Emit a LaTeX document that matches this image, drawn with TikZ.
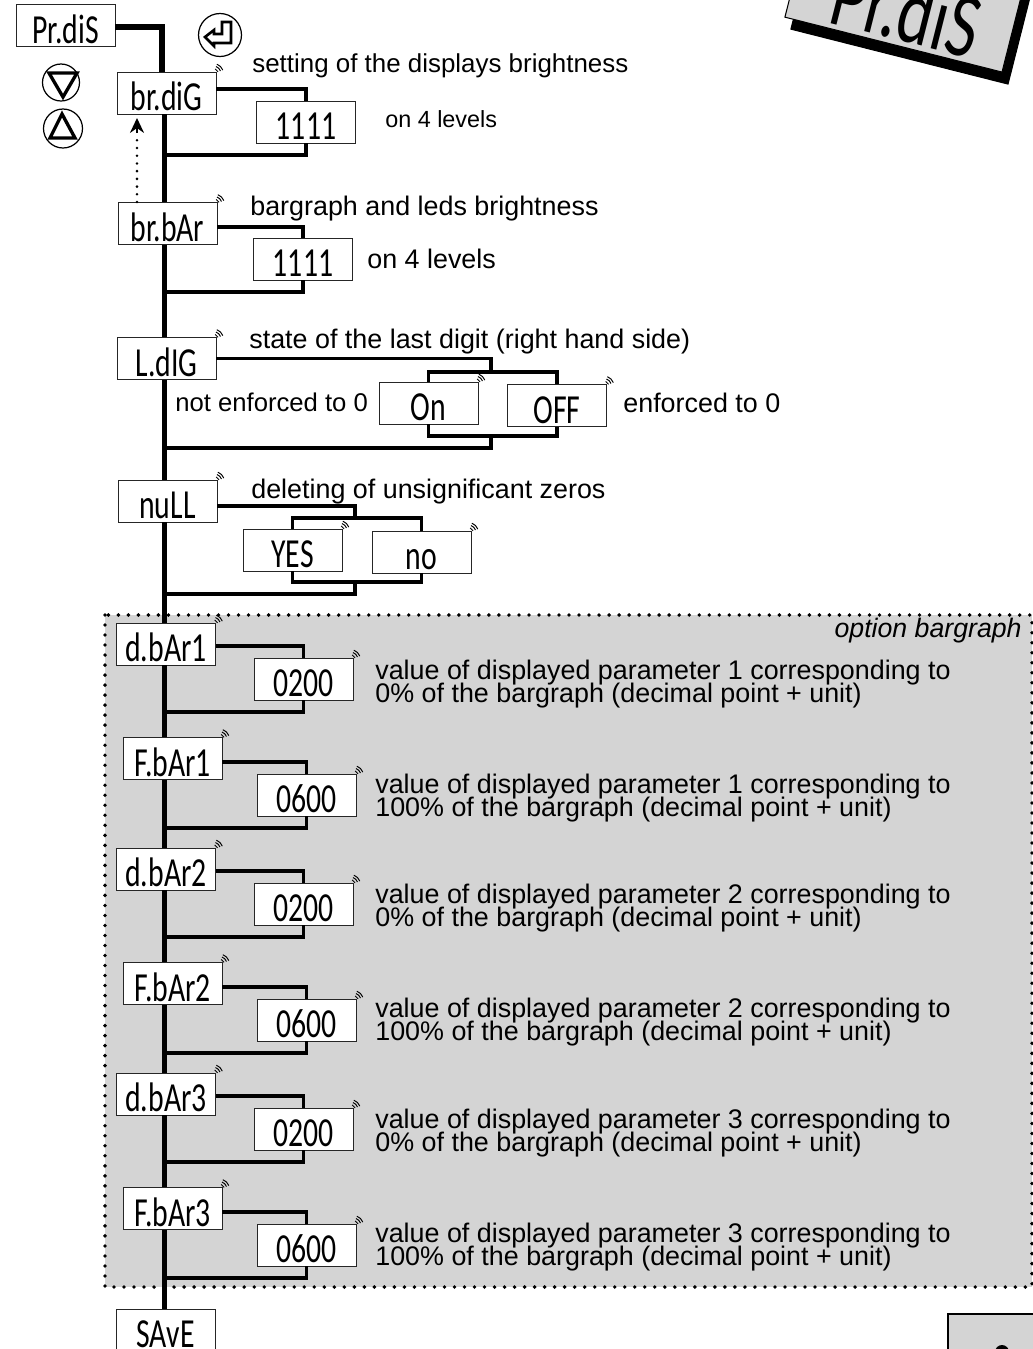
\documentclass[tikz,border=0pt]{standalone}
\usepackage{xcolor}
\usepackage{fontspec}
\usepackage{tikz}
\usetikzlibrary{arrows.meta, calc}
\setmainfont{Liberation Sans}
\newfontfamily\lcdfont[FakeStretch=0.72]{Carlito}
\definecolor{optgrey}{RGB}{212,212,212}
\tikzset{
  lcdbox/.style={rectangle, draw=black!85, fill=white, minimum width=1.98cm, minimum height=0.84cm,
    inner sep=0pt, text height=0.76cm, text depth=0.05cm, line width=0.5pt,
    font=\lcdfont\fontsize{23.5}{23.5}\selectfont},
  busline/.style={line width=2.85pt, color=black},
  subline/.style={line width=1.75pt, color=black},
  dotline/.style={line width=2.2pt, line cap=round, dash pattern=on 0pt off 5.7pt},
  label/.style={anchor=base west, inner sep=0pt, font=\fontsize{15.3}{15.3}\selectfont},
  twoline/.style={anchor=west, inner sep=0pt, align=left,
    font=\fontsize{15.3}{13}\selectfont},
  keyring/.style={circle, draw=black, line width=0.7pt, inner sep=0pt},
  keytip/.style={line width=1.9pt, line join=miter},
  wavemark/.style={line width=0.55pt},
  cornerlabel/.style={rectangle, draw=black, fill=optgrey, minimum width=4.48cm, minimum height=1.8cm,
    rotate=-14.2, line width=0.6pt}
}
% three small arcs at the corner of a box
\newcommand{\waves}[1]{%
  \foreach \r in {0.1,0.15,0.2} {
    \draw[wavemark] ($(#1.north east)+(-3,2)$) ++(20:\r cm) arc (20:70:\r cm);
  }
}
\begin{document}
\begin{tikzpicture}[x=0.02cm, y=-0.02cm]
  \useasboundingbox (0,0) rectangle (1033,1349);

  % Option area
  \fill[optgrey] (105,615) rectangle (1032,1287);
  \draw[dotline] (105,615) rectangle (1032,1287);
  \node[anchor=base east, inner sep=0pt, font=\fontsize{15.2}{15}\itshape] (optlabel) at (1022,637) {option bargraph};

  % Corner label
  \node[cornerlabel, fill=black, draw=black] (cornershadow) at (910.5,13) {};
  \node[cornerlabel] (cornerbox) at (904.5,1) {};
  \node[rotate=-14.2, anchor=base, inner sep=0pt, font=\lcdfont\fontsize{53}{53}\selectfont] (cornertext) at (899,40.5) {Pr.diS};

  % Page box
  \node[rectangle, draw=black, fill=optgrey, line width=1.5pt, minimum width=2.4cm, minimum height=3.2cm] (pagebox) at (1008,1394) {};
  \fill (1002,1352) circle (7);

  % Menu boxes
  \node[lcdbox] (prdis) at (65.5,25.5) {Pr.diS};
  \node[lcdbox] (brdig) at (166.5,93) {br.diG};
  \node[lcdbox] (brbar) at (167.5,223.5) {br.bAr};
  \node[lcdbox] (ldig) at (166.5,358.5) {L.dIG};
  \node[lcdbox] (null) at (167.5,501) {nuLL};
  \node[lcdbox] (dbara) at (166,644) {d.bAr1};
  \node[lcdbox] (fbara) at (172.5,758.5) {F.bAr1};
  \node[lcdbox] (dbarb) at (166,869) {d.bAr2};
  \node[lcdbox] (fbarb) at (172.5,983.5) {F.bAr2};
  \node[lcdbox] (dbarc) at (166,1094) {d.bAr3};
  \node[lcdbox] (fbarc) at (172.5,1208.5) {F.bAr3};
  \node[lcdbox] (save) at (165.5,1330) {SAvE};

  % Value boxes
  \node[lcdbox] (valdig) at (306,122) {1111};
  \node[lcdbox] (valbar) at (303,259) {1111};
  \node[lcdbox] (on) at (428.5,403) {On};
  \node[lcdbox] (off) at (557,405.5) {OFF};
  \node[lcdbox] (yes) at (292.5,550) {YES};
  \node[lcdbox] (no) at (421.5,552) {no};
  \node[lcdbox] (vala) at (303.5,679) {0200};
  \node[lcdbox] (valb) at (306.5,795) {0600};
  \node[lcdbox] (valc) at (303.5,904) {0200};
  \node[lcdbox] (vald) at (306.5,1020) {0600};
  \node[lcdbox] (vale) at (303.5,1129) {0200};
  \node[lcdbox] (valf) at (306.5,1245) {0600};

  % Main line
  \coordinate (bustop) at (162,72);
  \coordinate (busx) at (164.5,114);
  \draw[busline] ($(prdis.east)+(0,1.5)$) -| (bustop);
  \draw[busline] (busx |- brdig.south) -- (busx |- brbar.north)
    (busx |- brbar.south) -- (busx |- ldig.north)
    (busx |- ldig.south) -- (busx |- null.north)
    (busx |- null.south) -- (busx |- dbara.north)
    (busx |- dbara.south) -- (busx |- fbara.north)
    (busx |- fbara.south) -- (busx |- dbarb.north)
    (busx |- dbarb.south) -- (busx |- fbarb.north)
    (busx |- fbarb.south) -- (busx |- dbarc.north)
    (busx |- dbarc.south) -- (busx |- fbarc.north)
    (busx |- fbarc.south) -- (busx |- save.north);

  % Sub menus
  \draw[subline] ($(brdig.east)+(0,-4)$) -| (valdig.north);
  \draw[subline] (valdig.south) |- (busx |- 0,155);
  \draw[subline] ($(brbar.east)+(0,3.5)$) -| (valbar.north);
  \draw[subline] (valbar.south) |- (busx |- 0,292);

  \coordinate (ldigtop) at (491,372);
  \coordinate (ldigbot) at (491,436);
  \draw[subline] (ldig.east) -| (ldigtop);
  \draw[subline] (on.north) |- (ldigtop) -| (off.north);
  \draw[subline] (on.south) |- (ldigbot) -| (off.south);
  \draw[subline] (ldigbot) |- (busx |- 0,448);

  \coordinate (nulltop) at (355,518);
  \coordinate (nullbot) at (355,582);
  \draw[subline] ($(null.east)+(0,5)$) -| (nulltop);
  \draw[subline] (yes.north) |- (nulltop) -| (no.north);
  \draw[subline] (yes.south) |- (nullbot) -| (no.south);
  \draw[subline] (nullbot) |- (busx |- 0,594);

  \draw[subline] ($(dbara.east)+(0,2)$) -| (vala.north);
  \draw[subline] (vala.south) |- (busx |- 0,712);
  \draw[subline] ($(fbara.east)+(0,3.5)$) -| (valb.north);
  \draw[subline] (valb.south) |- (busx |- 0,828);
  \draw[subline] ($(dbarb.east)+(0,2)$) -| (valc.north);
  \draw[subline] (valc.south) |- (busx |- 0,937);
  \draw[subline] ($(fbarb.east)+(0,3.5)$) -| (vald.north);
  \draw[subline] (vald.south) |- (busx |- 0,1053);
  \draw[subline] ($(dbarc.east)+(0,2)$) -| (vale.north);
  \draw[subline] (vale.south) |- (busx |- 0,1162);
  \draw[subline] ($(fbarc.east)+(0,3.5)$) -| (valf.north);
  \draw[subline] (valf.south) |- (busx |- 0,1278);

  % Back arrow
  \coordinate (backx) at (137,0);
  \draw[line width=1.6pt, line cap=round, dash pattern=on 0pt off 4.4pt] (backx |- brbar.north) -- (137,134);
  \draw[-{Stealth[length=8.5pt, width=8pt]}, line width=1pt] (137,133) -- (backx |- 0,118);

  % Keys
  \node[keyring, minimum size=0.86cm] (enterkey) at (220,35) {};
  \draw[keytip, line width=1.5pt] (205,37) -- (214,30) -- (214,34) -- (222,34) -- (222,22) -- (231,22) -- (231,43) -- (214,43) -- (214,46) -- cycle;
  \node[keyring, minimum size=0.74cm] (downkey) at (61,82.5) {};
  \draw[keytip] (49,73) -- (77,73) -- (63,97) -- cycle;
  \node[keyring, minimum size=0.78cm] (upkey) at (63,128.5) {};
  \draw[keytip] (50,138) -- (75,138) -- (62,114) -- cycle;

  % Small marks
  \foreach \b in {brdig,brbar,ldig,null,dbara,fbara,dbarb,fbarb,dbarc,fbarc,on,off,yes,no,vala,valb,valc,vald,vale,valf} {
    \waves{\b}
  }

  % Texts
  \node[label, font=\fontsize{14.75}{15}\selectfont] (tdig) at (252,72) {setting of the displays brightness};
  \node[label, font=\fontsize{13.3}{15}\selectfont] (tlevela) at (385,127) {on 4 levels};
  \node[label] (tbar) at (250,215) {bargraph and leds brightness};
  \node[label] (tlevelb) at (367,268) {on 4 levels};
  \node[label] (tstate) at (249,348) {state of the last digit (right hand side)};
  \node[label, font=\fontsize{14.6}{15}\selectfont] (tnot) at (175,411) {not enforced to 0};
  \node[label] (tenf) at (623,412) {enforced to 0};
  \node[label] (tnull) at (251,498) {deleting of unsignificant zeros};
  \node[twoline] (tvala) at (375,684) {value of displayed parameter 1 corresponding to\\[-2.3pt]0\% of the bargraph (decimal point + unit)};
  \node[twoline] (tvalb) at (375,798) {value of displayed parameter 1 corresponding to\\[-2.3pt]100\% of the bargraph (decimal point + unit)};
  \node[twoline] (tvalc) at (375,908) {value of displayed parameter 2 corresponding to\\[-2.3pt]0\% of the bargraph (decimal point + unit)};
  \node[twoline] (tvald) at (375,1022) {value of displayed parameter 2 corresponding to\\[-2.3pt]100\% of the bargraph (decimal point + unit)};
  \node[twoline] (tvale) at (375,1133) {value of displayed parameter 3 corresponding to\\[-2.3pt]0\% of the bargraph (decimal point + unit)};
  \node[twoline] (tvalf) at (375,1247) {value of displayed parameter 3 corresponding to\\[-2.3pt]100\% of the bargraph (decimal point + unit)};
\end{tikzpicture}
\end{document}
